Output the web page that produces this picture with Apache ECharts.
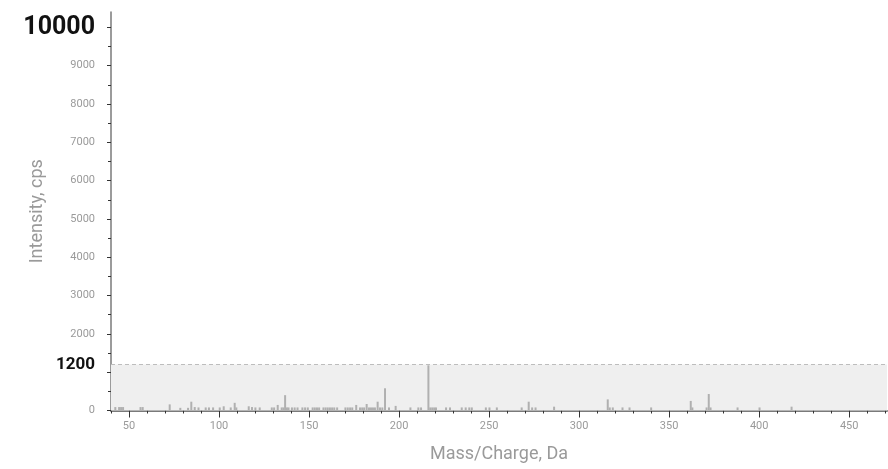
<!DOCTYPE html>
<html><head><meta charset="utf-8">
<script src="https://cdn.jsdelivr.net/npm/echarts@6/dist/echarts.min.js"></script>
<style>html,body{margin:0;padding:0;background:#fff}#c{width:888px;height:469px}</style>
</head><body><div id="c"></div>
<script>
const massCharge = [42.4,44.5,45.6,46.7,56.4,57.6,72.6,78.5,82.8,84.6,86.5,88.6,92.6,94.4,96.7,100.4,102.6,106.5,108.7,109.6,116.5,118.3,120.2,122.6,129.3,130.6,132.6,134.8,135.8,136.7,137.7,138.6,140.5,142,143.6,146.3,147.8,149.3,152,153.2,154.4,155.6,158,159.2,160.4,161.6,162.8,164,165.6,170.2,171.5,172.8,174,176.2,178.3,179.5,180.6,182,183.3,184.4,185.5,186.6,188.1,189.4,190.7,192.2,194.4,198.1,206.3,210.7,212.2,216.3,217.3,218.4,219.5,220.5,226.1,228.3,234.8,237,239,240.4,248.2,250.2,254.3,268.1,272,273.9,275.8,286.1,315.9,317,318.7,324.1,328,340,362,362.9,370.8,372,373,388,400.2,418];
const intensity = [90,90,90,90,90,90,160,70,70,230,90,80,80,80,80,80,110,80,200,80,110,90,80,80,80,80,145,80,80,400,80,80,80,80,80,80,80,80,80,80,80,80,80,80,80,80,80,80,80,80,80,80,80,145,80,80,80,170,80,80,80,80,230,80,80,580,80,120,80,80,80,1180,80,80,80,80,80,80,80,80,80,80,80,80,80,80,230,80,80,100,290,80,80,80,80,80,250,80,80,430,80,80,80,100];
const threshold = 1200;
const yTickValues = [0,1000,2000,3000,4000,5000,6000,7000,8000,9000,10000];
const yLabelValues = [0,2000,3000,4000,5000,6000,7000,8000,9000,10000];
const yMinorValues = [500,1500,2500,3500,4500,5500,6500,7500,8500,9500];
const xMajorValues = [50,100,150,200,250,300,350,400,450];
const xMinorValues = [40,50,60,70,80,90,100,110,120,130,140,150,160,170,180,190,200,210,220,230,240,250,260,270,280,290,300,310,320,330,340,350,360,370,380,390,400,410,420,430,440,450,460,470];
const xName = 'Mass/Charge, Da';
const yName = 'Intensity, cps';

const FONT = 'Roboto';
const chart = echarts.init(document.getElementById('c'), null, {renderer:'canvas'});
const barData = massCharge.map((m,i)=>[m,intensity[i]]);
chart.setOption({
  animation:false,
  textStyle:{fontFamily:FONT},
  grid:{left:111,right:1,top:12,bottom:58.5,containLabel:false,outerBoundsMode:'none'},
  xAxis:[
    {type:'value',min:40,max:471,interval:10,position:'bottom',
     axisLine:{lineStyle:{color:'#7a7a7a',width:2}},
     axisTick:{length:3,customValues:xMinorValues,lineStyle:{color:'#333',width:1}},
     axisLabel:{show:false},splitLine:{show:false},
     name:xName,nameLocation:'middle',nameGap:35,nameMoveOverlap:false,
     nameTextStyle:{color:'#9a9a9a',fontSize:18,fontFamily:FONT}},
    {type:'value',min:40,max:471,interval:10,position:'bottom',
     axisLine:{show:false},
     axisTick:{length:7,customValues:xMajorValues,lineStyle:{color:'#333',width:1}},
     axisLabel:{customValues:xMajorValues,color:'#9a9a9a',fontSize:11,margin:10,fontFamily:FONT},
     splitLine:{show:false}}
  ],
  yAxis:[
    {type:'value',min:0,max:10400,interval:1000,position:'left',
     axisLine:{show:true,lineStyle:{color:'#7a7a7a',width:1.5}},
     axisTick:{show:true,length:4,customValues:yTickValues,lineStyle:{color:'#333'}},
     axisLabel:{customValues:yLabelValues,margin:16,color:'#9a9a9a',fontSize:11,fontFamily:FONT,
       formatter:function(v){return v===10000?'{big|10000}':String(v);},
       rich:{big:{fontSize:25,fontWeight:'bold',color:'#111',fontFamily:FONT}}},
     splitLine:{show:false},
     name:yName,nameLocation:'middle',nameGap:65,nameMoveOverlap:false,
     nameTextStyle:{color:'#9a9a9a',fontSize:18,fontFamily:FONT}},
    {type:'value',min:0,max:10400,interval:500,position:'left',
     axisLine:{show:false},
     axisTick:{show:true,length:3,customValues:yMinorValues,lineStyle:{color:'#333'}},
     axisLabel:{show:false},splitLine:{show:false}}
  ],
  series:[{
    type:'bar',xAxisIndex:0,yAxisIndex:0,barWidth:2,
    itemStyle:{color:'#b0b0b0'},
    data:barData,
    markArea:{silent:true,itemStyle:{color:'#efefef'},data:[[{yAxis:0},{yAxis:threshold}]]},
    markLine:{silent:true,symbol:'none',
      lineStyle:{type:[4,3],color:'#bdbdbd',width:1},
      label:{position:'start',distance:16,formatter:String(threshold),fontSize:17,fontWeight:'bold',color:'#111',fontFamily:FONT},
      data:[{yAxis:threshold}]}
  }]
});
</script></body></html>
